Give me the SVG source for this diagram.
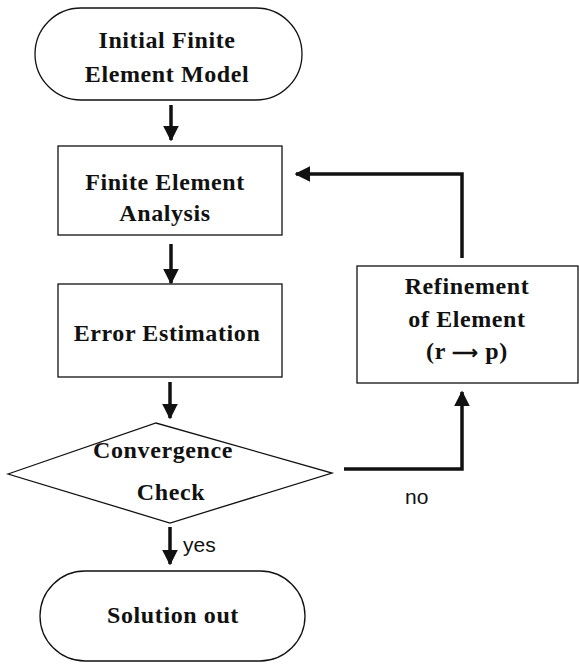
<svg xmlns="http://www.w3.org/2000/svg" width="579" height="664" viewBox="0 0 579 664">
<style>
.shape{fill:#fff;stroke:#111;stroke-width:1.3}
.t{font-family:"Liberation Serif","Times New Roman",serif;font-weight:bold;font-size:24px;letter-spacing:0.6px;fill:#111;text-anchor:middle}
.s{font-family:"Liberation Sans",Arial,sans-serif;font-size:21px;fill:#111}
.c{fill:none;stroke:#111;stroke-width:3.5}
</style>
<defs>
<marker id="ah" viewBox="0 0 10 10" refX="9" refY="5" markerWidth="4.5" markerHeight="4.5" markerUnits="strokeWidth" orient="auto">
<path d="M0,0 L10,5 L0,10 z" fill="#111"/>
</marker>
</defs>
<g id="connectors">
<line class="c" x1="171" y1="105" x2="171" y2="140" marker-end="url(#ah)"/>
<line class="c" x1="171" y1="244" x2="171" y2="283" marker-end="url(#ah)"/>
<line class="c" x1="170" y1="382" x2="170" y2="418" marker-end="url(#ah)"/>
<line class="c" x1="170" y1="527" x2="170" y2="564" marker-end="url(#ah)"/>
<polyline class="c" points="344,469 462,469 462,392" marker-end="url(#ah)"/>
<polyline class="c" points="462,258 462,174 296,174" marker-end="url(#ah)"/>
<text class="s" x="183" y="552">yes</text>
<text class="s" x="405" y="504">no</text>
</g>
<g id="start">
<rect class="shape" x="35" y="8" width="267" height="92" rx="46" ry="46"/>
<text class="t" x="167" y="48">Initial Finite</text>
<text class="t" x="167" y="82">Element Model</text>
</g>
<g id="analysis">
<rect class="shape" x="58" y="146" width="224" height="89"/>
<text class="t" x="165" y="190">Finite Element</text>
<text class="t" x="165" y="221">Analysis</text>
</g>
<g id="error">
<rect class="shape" x="58" y="284" width="224" height="93"/>
<text class="t" x="167" y="341">Error Estimation</text>
</g>
<g id="check">
<polygon class="shape" points="8,474 156,423 332,473 170,523"/>
<text class="t" x="163" y="458">Convergence</text>
<text class="t" x="171" y="500">Check</text>
</g>
<g id="refine">
<rect class="shape" x="357" y="266" width="221" height="117"/>
<text class="t" x="467" y="294">Refinement</text>
<text class="t" x="467" y="327">of Element</text>
<text class="t" x="467" y="359">(r <tspan font-size="18">⟶</tspan> p)</text>
</g>
<g id="end">
<rect class="shape" x="40" y="571" width="265" height="90" rx="45" ry="45"/>
<text class="t" x="173" y="623">Solution out</text>
</g>
</svg>
